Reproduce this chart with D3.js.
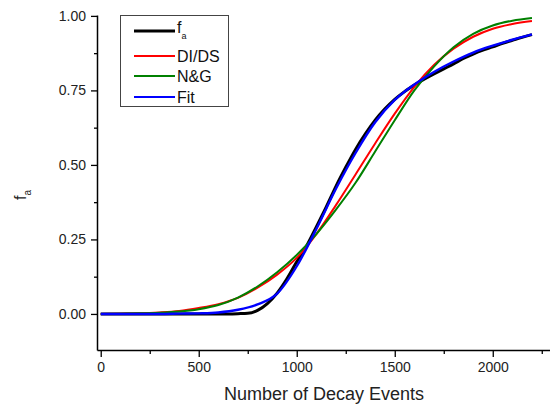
<!DOCTYPE html>
<html>
<head>
<meta charset="utf-8">
<script src="https://cdn.jsdelivr.net/npm/d3@7/dist/d3.min.js"></script>
<style>
  body { margin: 0; background: #fff; }
  svg { font-family: "Liberation Sans", Arial, sans-serif; }
</style>
</head>
<body>
<div id="chart"></div>
<script>
// number of decay events for the model curves
var xModel = [0, 100, 200, 300, 400, 500, 600, 700, 800, 900, 1000, 1100,
              1200, 1300, 1400, 1500, 1600, 1700, 1800, 1900, 2000, 2100, 2200];
var diDs = [0, 0.001, 0.002, 0.005, 0.010, 0.020, 0.033, 0.054, 0.088, 0.132, 0.188, 0.268,
            0.365, 0.468, 0.572, 0.672, 0.762, 0.835, 0.890, 0.930, 0.957, 0.973, 0.983];
var nAndG = [0, 0.001, 0.002, 0.004, 0.008, 0.016, 0.030, 0.055, 0.092, 0.140, 0.198, 0.268,
             0.350, 0.440, 0.545, 0.650, 0.750, 0.830, 0.895, 0.940, 0.968, 0.984, 0.993];
var fit = [0, 0, 0, 0, 0.001, 0.002, 0.005, 0.014, 0.032, 0.068, 0.160, 0.285,
           0.420, 0.540, 0.643, 0.718, 0.770, 0.812, 0.847, 0.877, 0.900, 0.920, 0.938];

// measured fraction f_a
var xData = [0, 100, 200, 300, 400, 500, 600, 700, 750, 800, 850, 900, 950, 1000, 1050, 1100,
             1150, 1200, 1250, 1300, 1350, 1400, 1450, 1500, 1550, 1600, 1650, 1700, 1750,
             1800, 1850, 1900, 1950, 2000, 2050, 2100, 2150, 2200];
var fa = [0, 0, 0, 0, 0, 0, 0, 0.001, 0.002, 0.012, 0.035, 0.070, 0.118, 0.175, 0.228, 0.292,
          0.358, 0.428, 0.492, 0.552, 0.604, 0.650, 0.688, 0.720, 0.746, 0.768, 0.788, 0.805, 0.822,
          0.839, 0.857, 0.872, 0.885, 0.896, 0.908, 0.918, 0.928, 0.937];

var xTicks = [0, 500, 1000, 1500, 2000];
var xMinor = [250, 750, 1250, 1750, 2250];
var yTicks = [0, 0.25, 0.5, 0.75, 1.0];
var yMinor = [0.125, 0.375, 0.625, 0.875];

var legendNames = ["f", "DI/DS", "N&G", "Fit"];
var colors = ["#000000", "#ff0000", "#008000", "#0000ff"];

var width = 550, height = 407;

var svg = d3.select("#chart").append("svg")
    .attr("width", width)
    .attr("height", height);

var x = d3.scaleLinear().domain([-19, 2292]).range([97, 550]);
var y = d3.scaleLinear().domain([-0.121, 1.003]).range([350, 15]);

// axes
svg.append("g")
    .attr("transform", "translate(0,350)")
    .call(d3.axisBottom(x).tickValues(xTicks).tickSizeInner(7).tickSizeOuter(0).tickPadding(5)
      .tickFormat(d3.format("d")));
svg.append("g")
    .attr("transform", "translate(0,350)")
    .call(d3.axisBottom(x).tickValues(xMinor).tickSize(4).tickFormat(""))
    .select(".domain").remove();

svg.append("g")
    .attr("transform", "translate(97,0)")
    .call(d3.axisLeft(y).tickValues(yTicks).tickSizeInner(6).tickSizeOuter(0).tickPadding(5)
      .tickFormat(d3.format(".2f")));
svg.append("g")
    .attr("transform", "translate(97,0)")
    .call(d3.axisLeft(y).tickValues(yMinor).tickSize(3).tickFormat(""))
    .select(".domain").remove();

svg.selectAll(".domain").attr("stroke", "#000").attr("stroke-width", 1.5);
svg.selectAll(".tick line").attr("stroke", "#000").attr("stroke-width", 1.3);
svg.selectAll(".tick text")
    .attr("font-family", "Liberation Sans, Arial, sans-serif")
    .attr("font-size", 14)
    .attr("fill", "#222");

// axis titles
svg.append("text")
    .attr("x", 324)
    .attr("y", 400)
    .attr("text-anchor", "middle")
    .attr("font-size", 18)
    .attr("fill", "#222")
    .text("Number of Decay Events");

var yTitle = svg.append("text")
    .attr("transform", "translate(26,200)rotate(-90)")
    .attr("font-size", 16)
    .attr("fill", "#222");
yTitle.append("tspan").text("f");
yTitle.append("tspan").attr("font-size", 10).attr("dy", 5).text("a");

// curves
var line = d3.line()
    .x(function(d) { return x(d[0]); })
    .y(function(d) { return y(d[1]); })
    .curve(d3.curveMonotoneX);

var series = [
  {pts: d3.zip(xData, fa), color: colors[0], w: 3},
  {pts: d3.zip(xModel, diDs), color: colors[1], w: 2},
  {pts: d3.zip(xModel, nAndG), color: colors[2], w: 2},
  {pts: d3.zip(xModel, fit), color: colors[3], w: 2.4}
];

svg.append("g").selectAll("path")
    .data(series)
  .enter().append("path")
    .attr("d", function(d) { return line(d.pts); })
    .attr("fill", "none")
    .attr("stroke", function(d) { return d.color; })
    .attr("stroke-width", function(d) { return d.w; })
    .attr("stroke-linejoin", "round");

// legend
var legend = svg.append("g");
legend.append("rect")
    .attr("x", 120.5).attr("y", 15.5)
    .attr("width", 108).attr("height", 91)
    .attr("fill", "#fff")
    .attr("stroke", "#444")
    .attr("stroke-width", 1);

var rowY = [31, 56, 76, 97];
var rows = legend.selectAll("g.row")
    .data(legendNames)
  .enter().append("g")
    .attr("class", "row")
    .attr("transform", function(d, i) { return "translate(0," + rowY[i] + ")"; });

rows.append("line")
    .attr("x1", 134).attr("x2", 175)
    .attr("stroke", function(d, i) { return colors[i]; })
    .attr("stroke-width", function(d, i) { return i == 0 ? 3 : 2; });

var labels = rows.append("text")
    .attr("x", 177)
    .attr("y", 0)
    .attr("dy", "0.35em")
    .attr("font-size", 16)
    .attr("fill", "#111");
labels.filter(function(d, i) { return i == 0; })
    .attr("dy", "0.1em");
labels.append("tspan").text(function(d) { return d; });
labels.filter(function(d, i) { return i == 0; })
    .append("tspan").attr("font-size", 9).attr("dy", 6).text("a");
</script>
</body>
</html>
